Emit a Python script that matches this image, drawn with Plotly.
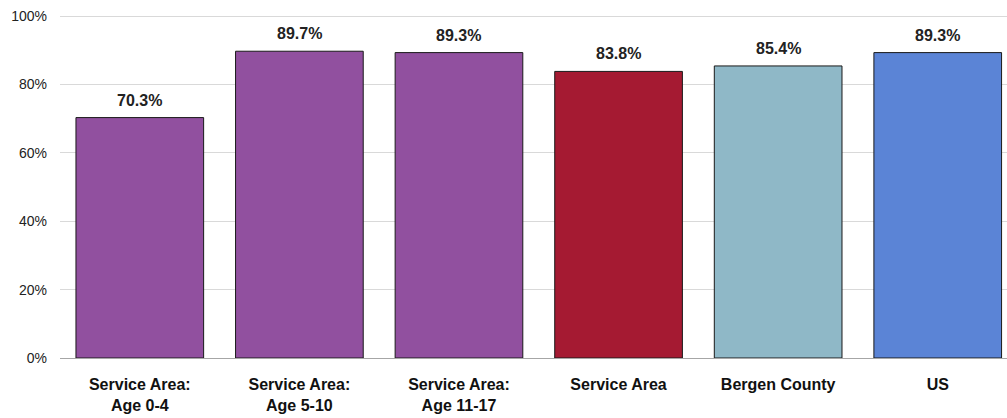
import plotly.graph_objects as go

categories = ["Service Area:<br>Age 0-4", "Service Area:<br>Age 5-10", "Service Area:<br>Age 11-17",
              "Service Area", "Bergen County", "US"]
values = [70.3, 89.7, 89.3, 83.8, 85.4, 89.3]
colors = ["#91509F", "#91509F", "#91509F", "#A51A32", "#8FB8C7", "#5B84D6"]
y_ticks = [0, 20, 40, 60, 80, 100]

font_name = "Liberation Sans Narrow, Arial Narrow, Liberation Sans, Arial, sans-serif"
xs = list(range(len(categories)))

fig = go.Figure(go.Bar(
    x=xs, y=values,
    marker=dict(color=colors, line=dict(color="#1a1a1a", width=1)),
    width=0.8,
))

# value labels above the bars
for x, v in zip(xs, values):
    fig.add_annotation(
        x=x, y=v, text=f"<b>{v:.1f}%</b>", showarrow=False,
        yanchor="bottom", yshift=7,
        font=dict(family=font_name, size=16, color="#222222"),
    )

fig.update_layout(
    width=1007, height=418,
    margin=dict(l=60, r=0, t=13, b=60),
    plot_bgcolor="white", paper_bgcolor="white",
    showlegend=False,
    font=dict(family=font_name, color="#222222"),
)
fig.update_xaxes(
    range=[-0.5, 5.434],
    tickvals=xs,
    ticktext=[f"<b>{c}</b>" for c in categories],
    tickfont=dict(size=16, color="#111111"),
    showgrid=False, ticks="", ticklabelstandoff=15,
)
fig.update_yaxes(
    range=[0, 100.88], tickvals=y_ticks, ticktext=[f"{t}%" for t in y_ticks],
    tickfont=dict(size=14, color="#222222"),
    showgrid=True, gridcolor="#d9d9d9", gridwidth=1,
    zeroline=True, zerolinecolor="#a6a6a6", zerolinewidth=1,
    ticks="", ticklabelstandoff=12, ticklabeloverflow="allow",
)

# drop the default page margin so the figure sits at the window corner
fig.write_html("out.html", config={"displayModeBar": False},
               post_script="document.body.style.margin='0';document.body.style.overflow='hidden';")
